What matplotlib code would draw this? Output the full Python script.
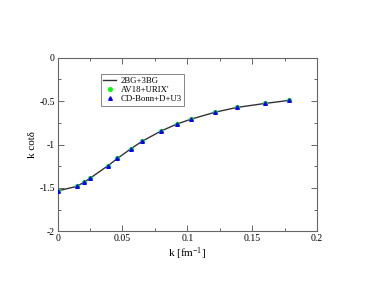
import matplotlib
matplotlib.use("Agg")
import matplotlib.pyplot as plt
from matplotlib.ticker import MultipleLocator

plt.rcParams['font.family'] = ['Liberation Serif', 'DejaVu Serif']
plt.rcParams['mathtext.default'] = 'regular'

k = [0.0, 0.0146, 0.0205, 0.0251, 0.0387, 0.0461, 0.0564, 0.0649, 0.0795,
     0.0918, 0.1028, 0.1215, 0.138, 0.1595, 0.178]
kcot_2bg = [-1.535, -1.484, -1.434, -1.388, -1.246, -1.161, -1.05, -0.965, -0.846,
            -0.765, -0.708, -0.627, -0.573, -0.527, -0.492]
kcot_av18 = [-1.535, -1.484, -1.434, -1.388, -1.246, -1.161, -1.05, -0.965, -0.846,
             -0.765, -0.708, -0.627, -0.573, -0.527, -0.492]
kcot_cdbonn = [-1.535, -1.484, -1.434, -1.388, -1.246, -1.161, -1.05, -0.965, -0.846,
               -0.765, -0.708, -0.627, -0.573, -0.527, -0.492]

xticks = [0, 0.05, 0.1, 0.15, 0.2]
xticklabels = ['0', '0.05', '0.1', '0.15', '0.2']
yticks = [0, -0.5, -1, -1.5, -2]
yticklabels = ['0', '-0.5', '-1', '-1.5', '-2']

fig = plt.figure(figsize=(3.74, 2.89), dpi=100)
ax = fig.add_axes([0.154, 0.2, 0.694, 0.6])

ax.plot(k, kcot_2bg, color='#333333', lw=1.0, label='2BG+3BG')
ax.plot(k, kcot_av18, 'o', color='#00ff00', ms=2.6, label="AV18+URIX'", zorder=3)
ax.plot(k, kcot_cdbonn, '^', color='#0000ff', ms=2.6, label='CD-Bonn+D+U3', zorder=4)

ax.set_xlim(0, 0.2)
ax.set_ylim(-2, 0)
ax.set_xticks(xticks)
ax.set_xticklabels(xticklabels)
ax.set_yticks(yticks)
ax.set_yticklabels(yticklabels)
ax.xaxis.set_minor_locator(MultipleLocator(0.025))
ax.yaxis.set_minor_locator(MultipleLocator(0.25))
ax.tick_params(which='both', direction='in', top=True, right=True,
               color='#666666', labelsize=7, pad=2)
ax.tick_params(which='major', length=4, width=0.7)
ax.tick_params(which='minor', length=2, width=0.7)
for s in ax.spines.values():
    s.set_color('#666666')
    s.set_linewidth(0.8)

ax.set_xlabel('k [fm$^{-1}$]', fontsize=8, labelpad=2)
ax.set_ylabel('k cotδ', fontsize=8, labelpad=2)

leg = ax.legend(loc='upper left', bbox_to_anchor=(0.168, 0.905), fontsize=6.3,
                frameon=True, fancybox=False, handlelength=1.4, borderpad=0.25,
                labelspacing=0.15, handletextpad=0.6, borderaxespad=0)
leg.get_frame().set_edgecolor('#666666')
leg.get_frame().set_linewidth(0.7)

fig.savefig('out.png', dpi=100)
